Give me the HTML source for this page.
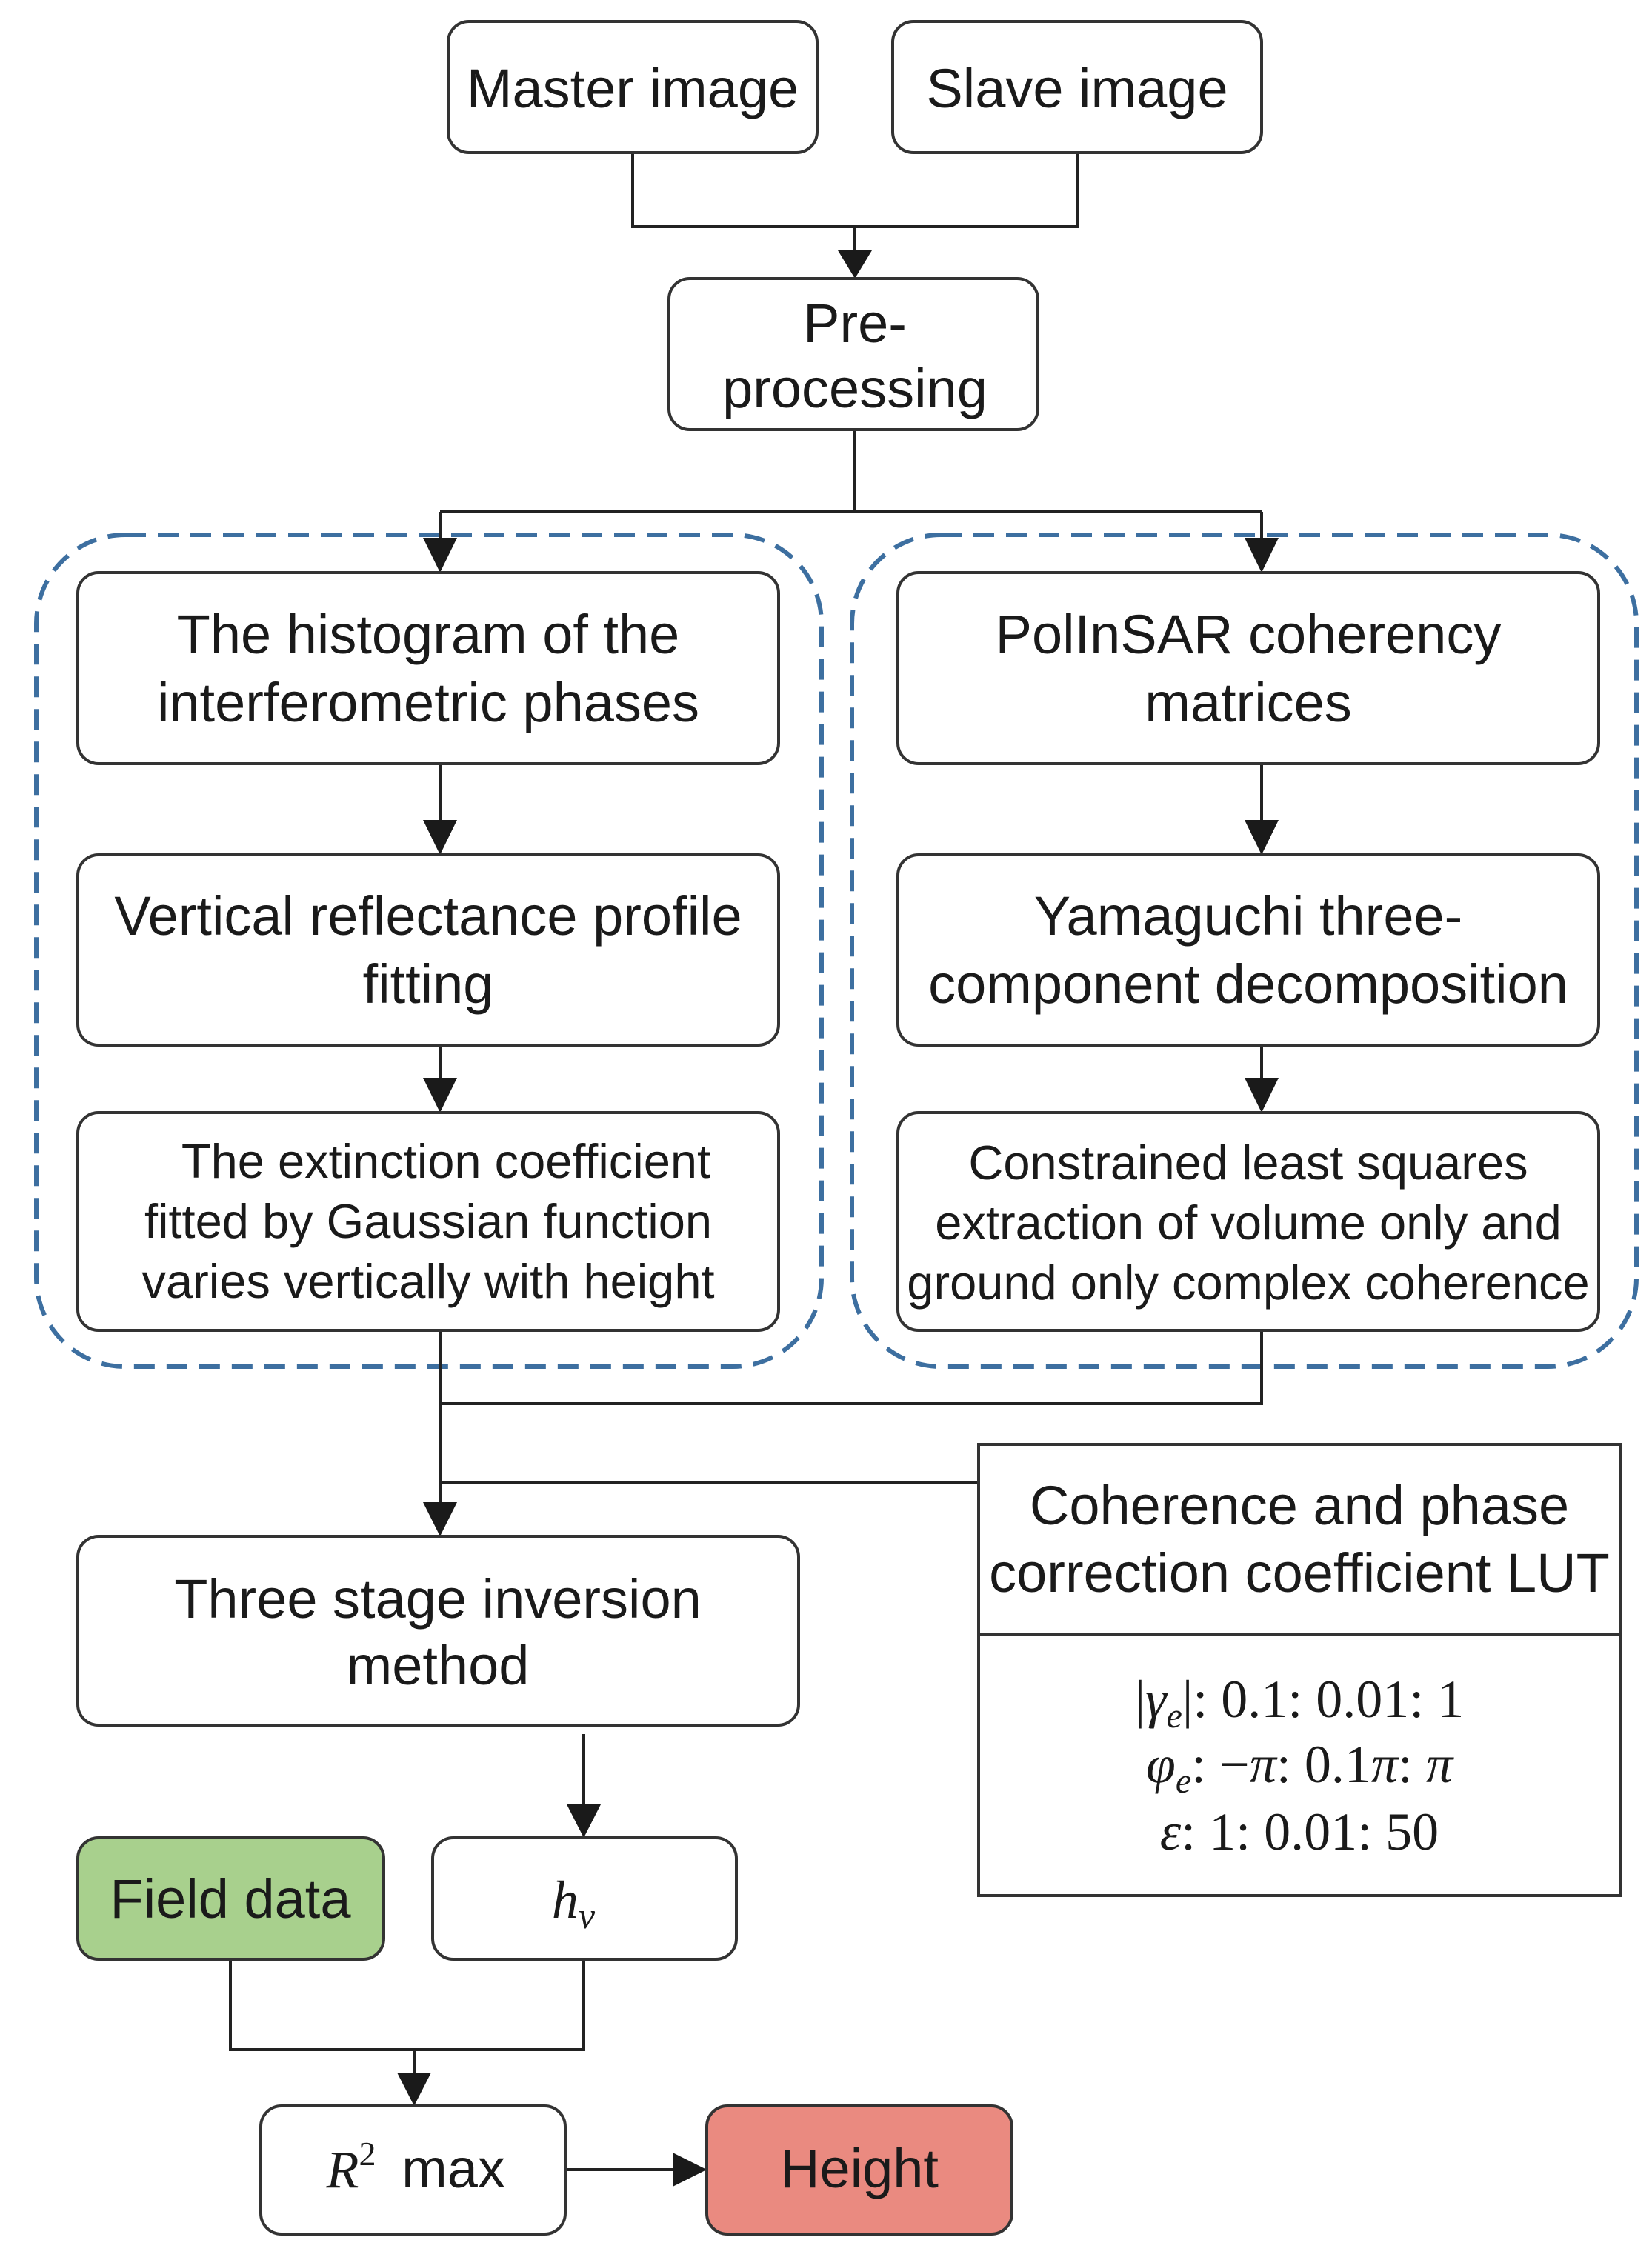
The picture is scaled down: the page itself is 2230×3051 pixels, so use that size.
<!DOCTYPE html>
<html><head><meta charset="utf-8"><style>
html,body{margin:0;padding:0;background:#fff;}
svg{display:block;}
text{font-family:"Liberation Sans",sans-serif;fill:#1a1a1a;text-anchor:middle;}
.m{font-family:"Liberation Serif",serif;font-style:italic;}
</style></head><body>
<svg width="2230" height="3051" viewBox="0 0 2230 3051" xmlns="http://www.w3.org/2000/svg">
<g fill="none" stroke="#3d6fa0" stroke-width="6" stroke-dasharray="28,16">
<rect x="49" y="722" width="1060" height="1123" rx="120"/>
<rect x="1150" y="722" width="1059" height="1123" rx="120"/>
</g>
<g fill="none" stroke="#222" stroke-width="4">
<path d="M854 206V306H1454V206M1154 306V340"/>
<path d="M1154 580V691M594 691H1703M594 691V728M1703 691V728"/>
<path d="M594 1031V1109M1703 1031V1109M594 1411V1455M1703 1411V1455"/>
<path d="M594 1796V2030M1703 1796V1895H594M594 2002H1321"/>
<path d="M788 2341V2440"/>
<path d="M311 2645V2767H788V2645M559 2767V2800"/>
<path d="M763 2929H910"/>
</g>
<g fill="#1a1a1a">
<polygon points="1131,338 1177,338 1154,376"/>
<polygon points="571,726 617,726 594,773"/>
<polygon points="1680,726 1726,726 1703,773"/>
<polygon points="571,1107 617,1107 594,1154"/>
<polygon points="1680,1107 1726,1107 1703,1154"/>
<polygon points="571,1455 617,1455 594,1502"/>
<polygon points="1680,1455 1726,1455 1703,1502"/>
<polygon points="571,2028 617,2028 594,2074"/>
<polygon points="765,2436 811,2436 788,2481"/>
<polygon points="536,2798 582,2798 559,2843"/>
<polygon points="908,2906 908,2952 954,2929"/>
</g>
<g stroke="#333" stroke-width="4" fill="#fff">
<rect x="605" y="29" width="498" height="177" rx="28"/>
<rect x="1205" y="29" width="498" height="177" rx="28"/>
<rect x="903" y="376" width="498" height="204" rx="28"/>
<rect x="105" y="773" width="946" height="258" rx="28"/>
<rect x="105" y="1154" width="946" height="257" rx="28"/>
<rect x="105" y="1502" width="946" height="294" rx="28"/>
<rect x="1212" y="773" width="946" height="258" rx="28"/>
<rect x="1212" y="1154" width="946" height="257" rx="28"/>
<rect x="1212" y="1502" width="946" height="294" rx="28"/>
<rect x="105" y="2074" width="973" height="255" rx="28"/>
<rect x="105" y="2481" width="413" height="164" rx="28" fill="#a8d08d"/>
<rect x="584" y="2481" width="410" height="164" rx="28"/>
<rect x="352" y="2843" width="411" height="173" rx="28"/>
<rect x="954" y="2843" width="412" height="173" rx="28" fill="#ea8a80"/>
<rect x="1321" y="1950" width="866" height="609" rx="0"/>
<path d="M1321 2207H2187"/>
</g>
<g font-size="74">
<text x="854" y="145">Master image</text>
<text x="1454" y="145">Slave image</text>
<text x="1154" y="462">Pre-</text>
<text x="1154" y="550">processing</text>
<text x="578" y="882">The histogram of the</text>
<text x="578" y="974">interferometric phases</text>
<text x="1685" y="882">PolInSAR coherency</text>
<text x="1685" y="974">matrices</text>
<text x="578" y="1262">Vertical reflectance profile</text>
<text x="578" y="1354">fitting</text>
<text x="1685" y="1262">Yamaguchi three-</text>
<text x="1685" y="1354">component decomposition</text>
<text x="591" y="2184">Three stage inversion</text>
<text x="591" y="2274">method</text>
<text x="1754" y="2058">Coherence and phase</text>
<text x="1754" y="2149">correction coefficient LUT</text>
<text x="311" y="2589">Field data</text>
<text x="1160" y="2953">Height</text>
<text x="612" y="2953">max</text>
</g>
<g font-size="65">
<text x="602" y="1590">The extinction coefficient</text>
<text x="578" y="1671">fitted by Gaussian function</text>
<text x="578" y="1752">varies vertically with height</text>
<text x="1685" y="1592">Constrained least squares</text>
<text x="1685" y="1673">extraction of volume only and</text>
<text x="1685" y="1754">ground only complex coherence</text>
</g>
<g font-size="72">
<text class="m" x="474" y="2953">R<tspan font-size="46" font-style="normal" dy="-30">2</tspan></text>
<text class="m" x="774" y="2589">h<tspan font-size="50" dy="14">v</tspan></text>
<text x="1754" y="2318" style="font-family:'Liberation Serif',serif"><tspan>|</tspan><tspan font-style="italic">γ</tspan><tspan font-style="italic" font-size="48" dy="14">e</tspan><tspan dy="-14">|: 0.1: 0.01: 1</tspan></text>
<text x="1754" y="2406" style="font-family:'Liberation Serif',serif"><tspan font-style="italic">φ</tspan><tspan font-style="italic" font-size="48" dy="14">e</tspan><tspan dy="-14">: −</tspan><tspan font-style="italic">π</tspan><tspan>: 0.1</tspan><tspan font-style="italic">π</tspan><tspan>: </tspan><tspan font-style="italic">π</tspan></text>
<text x="1754" y="2497" style="font-family:'Liberation Serif',serif"><tspan font-style="italic">ε</tspan><tspan>: 1: 0.01: 50</tspan></text>
</g>
</svg>
</body></html>
